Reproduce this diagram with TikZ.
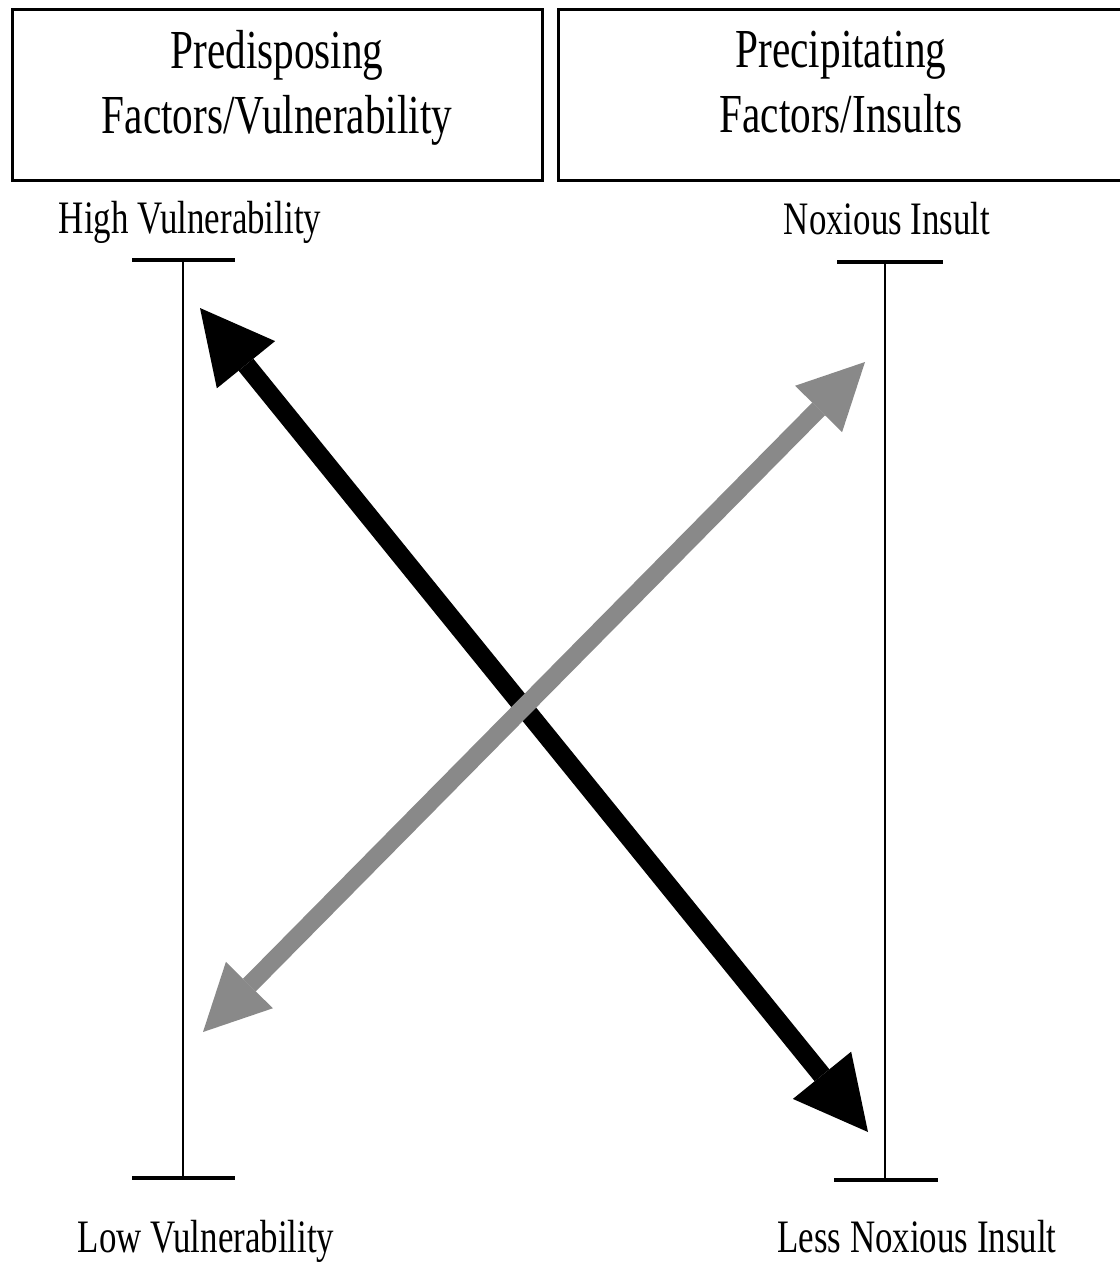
\documentclass[tikz,border=0pt]{standalone}
\usepackage{fontspec}
\setmainfont[FakeStretch=0.75]{Liberation Serif}
\usetikzlibrary{arrows.meta,positioning}
\definecolor{insultgray}{HTML}{898989}

\begin{document}
\begin{tikzpicture}[
  x=0.5pt,y=-0.5pt,
  factorbox/.style={draw,line width=1.5pt,minimum width=265pt,minimum height=85.5pt,align=center,text depth=13pt,font=\fontsize{27.5}{32.5}\selectfont},
  endlabel/.style={anchor=base,font=\fontsize{23.25}{28}\selectfont},
  scaleline/.style={line width=1.4pt},
  scaletick/.style={line width=2pt},
  vulnarrow/.style={{Triangle[length=36.5pt,width=37.5pt,line width=0pt]}-{Triangle[length=36.5pt,width=37.5pt,line width=0pt]},line width=9.5pt},
  insultarrow/.style={insultgray,{Triangle[length=33pt,width=33pt,line width=0pt]}-{Triangle[length=33pt,width=33pt,line width=0pt]},line width=9pt}
]
\useasboundingbox (0,0) rectangle (1120,1266);
\node[factorbox] (predisp) at (277,94.5) {Predisposing\\Factors/Vulnerability};
\node[factorbox,minimum width=283pt] (precip) at (841,94.5) {Precipitating\\Factors/Insults};

% left scale
\coordinate (vulnTop) at (183,260);
\coordinate (vulnBot) at (183,1178);
\draw[scaleline] (vulnTop) -- (vulnBot);
\draw[scaletick] ([xshift=-25.5pt]vulnTop) -- ([xshift=26pt]vulnTop);
\draw[scaletick] ([xshift=-25.5pt]vulnBot) -- ([xshift=26pt]vulnBot);
\node[endlabel] (highvuln) at (190,233) {High Vulnerability};
\node[endlabel] (lowvuln) at (206,1252) {Low Vulnerability};

% right scale
\coordinate (insTop) at (885,262);
\coordinate (insBot) at (885,1180);
\draw[scaleline] (insTop) -- (insBot);
\draw[scaletick] ([xshift=-24pt]insTop) -- ([xshift=29pt]insTop);
\draw[scaletick] ([xshift=-25.5pt]insBot) -- ([xshift=26.5pt]insBot);
\node[endlabel] (noxious) at (887,234) {Noxious Insult};
\node[endlabel] (lessnox) at (917,1252) {Less Noxious Insult};

% crossing arrows
\coordinate (highTip) at (200,308);
\coordinate (lessTip) at (868,1132);
\coordinate (noxTip) at (865,362);
\coordinate (lowTip) at (203,1032);
\draw[vulnarrow] (highTip) -- (lessTip);
\draw[insultarrow] (lowTip) -- (noxTip);
\end{tikzpicture}
\end{document}
